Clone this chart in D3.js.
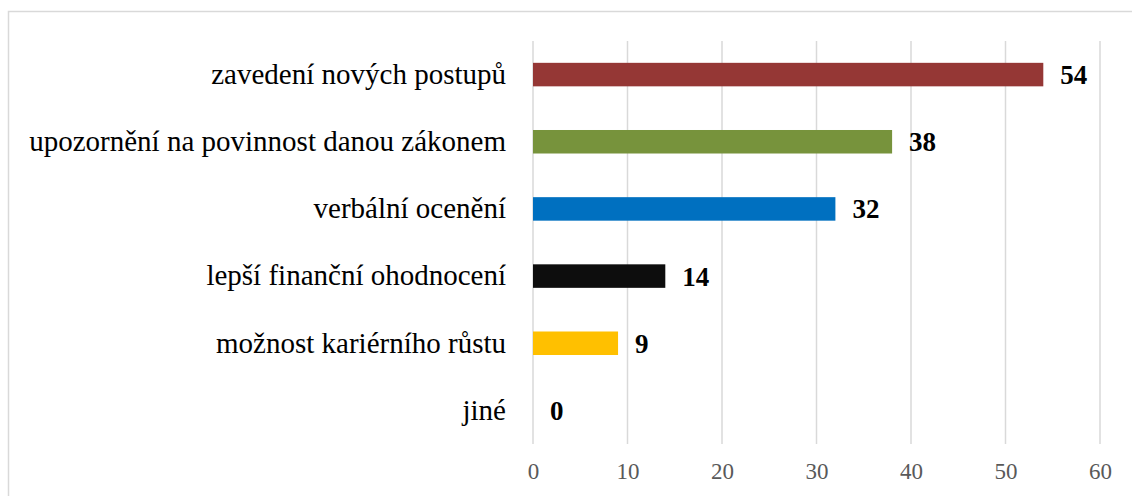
<!DOCTYPE html>
<html>
<head>
<meta charset="utf-8">
<script src="https://cdn.jsdelivr.net/npm/d3@7"></script>
<style>
  body { margin: 0; background: #fff; overflow: hidden; }
  svg { display: block; }
  svg text { font-family: "Liberation Serif", "Times New Roman", serif; }
</style>
</head>
<body>
<div id="chart"></div>
<script>
const categories = ['zavedení nových postupů', 'upozornění na povinnost danou zákonem', 'verbální ocenění',
    'lepší finanční ohodnocení', 'možnost kariérního růstu', 'jiné'];
const values = [54, 38, 32, 14, 9, 0];
const colors = ['#953735', '#77933c', '#0070c0', '#0d0d0d', '#ffc000', '#a5a5a5'];
const xTicks = [0, 10, 20, 30, 40, 50, 60];

const data = categories.map((c, i) => ({ category: c, value: values[i], color: colors[i] }));

const width = 1132;
const height = 496;
const margin = { top: 41, right: 32, bottom: 52, left: 533 };
const innerWidth = width - margin.left - margin.right;
const innerHeight = height - margin.top - margin.bottom;

const svg = d3.select('#chart')
    .append('svg')
    .attr('width', width)
    .attr('height', height);

// chart border (right and bottom edges lie outside the picture)
svg.append('rect')
    .attr('x', 8.5)
    .attr('y', 11.5)
    .attr('width', width + 10)
    .attr('height', height + 10)
    .attr('fill', 'none')
    .attr('stroke', '#d9d9d9')
    .attr('stroke-width', 1.5);

const g = svg.append('g')
    .attr('transform', `translate(${margin.left},${margin.top})`);

const xScale = d3.scaleLinear()
    .domain([0, 60])
    .range([0, innerWidth]);

const yScale = d3.scaleBand()
    .domain(categories)
    .range([0, innerHeight])
    .paddingInner(0.65)
    .paddingOuter(0.325);

// gridlines
g.selectAll('.grid')
    .data(xTicks)
    .enter()
    .append('line')
    .attr('x1', d => xScale(d))
    .attr('x2', d => xScale(d))
    .attr('y1', 0)
    .attr('y2', innerHeight)
    .attr('stroke', '#d9d9d9')
    .attr('stroke-width', 1.5);

// x axis
const xAxisG = g.append('g')
    .attr('transform', `translate(0,${innerHeight})`)
    .call(d3.axisBottom(xScale).tickValues(xTicks).tickSize(0).tickPadding(19));
xAxisG.select('.domain').remove();
xAxisG.attr('font-family', null).attr('font-size', 23);
xAxisG.selectAll('text').attr('fill', '#595959');

// y axis labels
const yAxisG = g.append('g')
    .call(d3.axisLeft(yScale).tickSize(0).tickPadding(27));
yAxisG.select('.domain').remove();
yAxisG.attr('font-family', null).attr('font-size', 29);
yAxisG.selectAll('text').attr('fill', '#000');

// bars
g.selectAll('.bar')
    .data(data)
    .enter()
    .append('rect')
    .attr('x', 0)
    .attr('y', d => yScale(d.category))
    .attr('width', d => xScale(d.value))
    .attr('height', yScale.bandwidth())
    .attr('fill', d => d.color);

// value labels
g.selectAll('.label')
    .data(data)
    .enter()
    .append('text')
    .attr('x', d => xScale(d.value) + 17)
    .attr('y', d => yScale(d.category) + yScale.bandwidth() / 2)
    .attr('dy', '0.35em')
    .attr('font-size', 27)
    .attr('font-weight', 'bold')
    .attr('fill', '#000')
    .text(d => d.value);
</script>
</body>
</html>
